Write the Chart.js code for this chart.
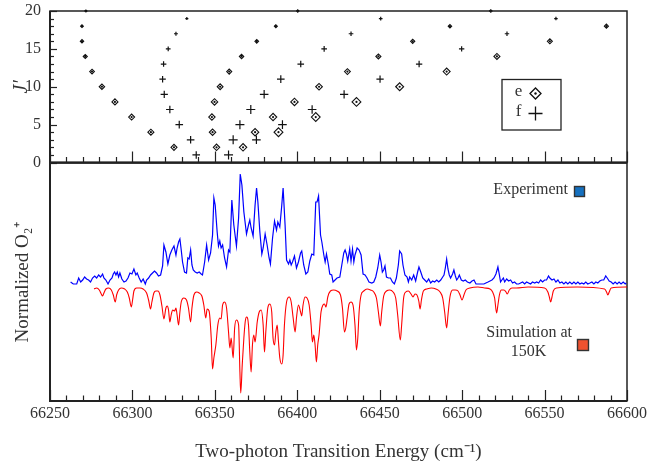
<!DOCTYPE html>
<html>
<head>
<meta charset="utf-8">
<script src="https://cdn.jsdelivr.net/npm/chart.js@4.4.0/dist/chart.umd.min.js"></script>
<style>
    html, body { margin: 0; padding: 0; background: #fff; }
    #wrap { position: relative; width: 648px; height: 464px; }
    #topChart, #botChart { position: absolute; left: 0; }
    #topChart { top: 0; }
    #botChart { top: 150px; }
</style>
</head>
<body>
<div id="wrap">
    <canvas id="topChart" width="648" height="175"></canvas>
    <canvas id="botChart" width="648" height="314"></canvas>
</div>
<script>
// ---- top panel: rotational assignments (energy in cm-1 for each J') ----
const J_EVEN = [2, 4, 6, 8, 10, 12, 14, 16, 18, 20];
const J_ODD  = [1, 3, 5, 7, 9, 11, 13, 15, 17, 19];

// e levels (diamonds), one array per branch, indexed like J_EVEN
const E_BRANCH_1 = [66325.2, 66311.2, 66299.5, 66289.4, 66281.5, 66275.5, 66271.4, 66269.4, 66269.4, 66271.8];
const E_BRANCH_2 = [66351.0, 66348.6, 66348.2, 66349.8, 66353.2, 66358.7, 66366.2, 66375.4, 66387.0, 66400.3];
const E_BRANCH_3 = [66367.1, 66374.4, 66385.3, 66398.3, 66413.2, 66430.4, 66449.2, 66470.0, 66492.6, 66517.4];
const E_BRANCH_4 = [null, 66388.6, 66411.2, 66435.9, 66462.1, 66490.6, 66521.1, 66553.2, 66587.5, null];

// f levels (crosses), indexed like J_ODD
const F_BRANCH_1 = [66338.7, 66335.3, 66328.4, 66322.7, 66319.3, 66318.3, 66318.9, 66321.7, 66326.4, 66333.0];
const F_BRANCH_2 = [66358.3, 66361.1, 66365.2, 66371.8, 66379.9, 66390.0, 66402.1, 66416.3, 66432.6, 66450.6];
const F_BRANCH_3 = [null, 66375.2, 66391.0, 66409.0, 66428.4, 66450.2, 66473.9, 66499.7, 66527.2, 66556.9];

// ---- bottom panel: experiment spectrum ----
const EXP_E = [66262.5, 66264.1, 66266.2, 66267.4, 66268.6, 66269.8, 66271.0, 66272.2, 66273.4, 66274.6, 66275.8, 66277.1, 66278.3, 66279.5, 66280.7, 66281.9, 66282.7, 66283.9, 66285.2, 66286.4, 66287.6, 66288.4, 66289.2, 66290.0, 66290.8, 66291.6, 66292.4, 66293.6, 66294.9, 66296.1, 66297.3, 66298.5, 66299.7, 66300.9, 66302.1, 66302.9, 66304.1, 66305.3, 66306.5, 66307.8, 66308.6, 66309.8, 66311.0, 66312.2, 66313.4, 66314.6, 66315.8, 66317.1, 66318.3, 66319.1, 66320.3, 66321.5, 66322.7, 66323.9, 66325.2, 66326.4, 66327.1, 66328.0, 66328.8, 66329.6, 66330.4, 66331.6, 66332.8, 66333.6, 66334.4, 66335.3, 66336.1, 66336.9, 66338.1, 66339.3, 66340.5, 66341.7, 66342.5, 66343.8, 66345.0, 66346.2, 66347.4, 66348.6, 66349.4, 66350.2, 66351.4, 66352.2, 66353.0, 66353.8, 66354.7, 66355.9, 66357.1, 66358.3, 66359.1, 66360.3, 66361.5, 66363.1, 66364.4, 66365.4, 66366.4, 66367.6, 66369.2, 66370.4, 66371.2, 66372.0, 66373.2, 66374.4, 66375.3, 66376.1, 66377.3, 66378.5, 66379.3, 66380.5, 66381.7, 66382.9, 66383.7, 66385.0, 66386.2, 66387.4, 66388.2, 66389.4, 66390.6, 66391.4, 66392.6, 66393.5, 66394.7, 66395.5, 66396.3, 66397.1, 66398.3, 66399.5, 66400.7, 66402.0, 66402.7, 66403.9, 66405.2, 66406.4, 66407.6, 66408.8, 66410.0, 66411.2, 66412.0, 66412.9, 66414.1, 66414.9, 66416.1, 66416.9, 66417.7, 66418.9, 66419.7, 66420.9, 66421.7, 66422.9, 66424.1, 66425.8, 66427.0, 66428.2, 66429.0, 66429.8, 66430.6, 66431.8, 66432.6, 66433.5, 66434.3, 66435.0, 66436.3, 66437.5, 66438.7, 66439.9, 66441.1, 66442.3, 66443.5, 66445.2, 66446.4, 66447.6, 66448.8, 66450.0, 66450.8, 66451.6, 66452.4, 66453.2, 66454.1, 66455.3, 66456.5, 66457.7, 66458.9, 66460.1, 66461.3, 66462.1, 66463.3, 66464.1, 66465.3, 66466.6, 66467.4, 66468.2, 66469.4, 66470.6, 66471.8, 66473.0, 66473.8, 66474.9, 66476.1, 66477.3, 66478.5, 66479.7, 66480.9, 66482.1, 66483.3, 66484.6, 66485.8, 66487.0, 66488.2, 66489.0, 66489.8, 66490.6, 66491.4, 66492.2, 66493.0, 66494.2, 66495.0, 66495.9, 66496.7, 66497.5, 66498.3, 66499.5, 66500.7, 66501.9, 66503.2, 66504.7, 66506.0, 66507.2, 66508.4, 66509.6, 66510.8, 66512.0, 66513.2, 66514.4, 66515.7, 66516.9, 66518.1, 66519.3, 66520.5, 66521.7, 66522.6, 66523.3, 66524.1, 66525.0, 66525.8, 66527.0, 66528.2, 66529.4, 66530.6, 66531.8, 66533.0, 66534.3, 66536.7, 66537.9, 66539.1, 66541.5, 66542.7, 66544.0, 66545.2, 66546.4, 66547.6, 66548.8, 66550.0, 66551.2, 66552.4, 66553.2, 66554.5, 66555.7, 66556.9, 66558.1, 66559.3, 66560.5, 66561.7, 66562.9, 66564.1, 66565.3, 66566.6, 66567.8, 66569.0, 66570.2, 66571.4, 66572.6, 66573.8, 66575.0, 66576.2, 66577.5, 66578.7, 66579.9, 66581.1, 66582.3, 66583.5, 66584.7, 66585.9, 66587.1, 66588.0, 66589.2, 66590.4, 66591.6, 66592.8, 66594.0, 66595.2, 66596.4, 66597.7, 66598.9, 66599.5];
const EXP_Y = [0.03, 0.01, 0.01, 0.07, 0.03, 0.05, 0.08, 0.06, 0.05, 0.03, 0.07, 0.09, 0.07, 0.10, 0.08, 0.11, 0.07, 0.05, 0.01, 0.05, 0.07, 0.11, 0.13, 0.10, 0.13, 0.08, 0.12, 0.06, 0.03, 0.04, 0.07, 0.12, 0.11, 0.16, 0.10, 0.12, 0.07, 0.03, 0.06, 0.01, 0.05, 0.07, 0.10, 0.12, 0.14, 0.12, 0.09, 0.10, 0.19, 0.40, 0.33, 0.21, 0.30, 0.35, 0.39, 0.30, 0.37, 0.43, 0.46, 0.35, 0.23, 0.13, 0.12, 0.27, 0.26, 0.35, 0.20, 0.15, 0.13, 0.12, 0.13, 0.11, 0.10, 0.23, 0.40, 0.25, 0.32, 0.50, 0.87, 0.80, 0.53, 0.39, 0.44, 0.37, 0.40, 0.27, 0.18, 0.35, 0.33, 0.85, 0.60, 0.39, 0.67, 1.11, 1.00, 0.73, 0.51, 0.60, 0.65, 0.57, 0.49, 0.80, 0.97, 0.83, 0.53, 0.31, 0.37, 0.51, 0.40, 0.27, 0.21, 0.47, 0.64, 0.55, 0.63, 0.58, 0.80, 0.97, 0.60, 0.25, 0.21, 0.25, 0.20, 0.23, 0.29, 0.17, 0.23, 0.32, 0.34, 0.20, 0.11, 0.13, 0.24, 0.31, 0.30, 0.83, 0.83, 0.89, 0.50, 0.43, 0.30, 0.23, 0.31, 0.20, 0.11, 0.10, 0.03, 0.05, 0.07, 0.08, 0.20, 0.32, 0.35, 0.31, 0.24, 0.36, 0.24, 0.36, 0.23, 0.30, 0.37, 0.35, 0.30, 0.11, 0.10, 0.07, 0.03, 0.02, 0.03, 0.08, 0.17, 0.30, 0.23, 0.13, 0.15, 0.19, 0.08, 0.07, 0.07, 0.03, 0.01, 0.07, 0.20, 0.34, 0.31, 0.20, 0.10, 0.08, 0.03, 0.08, 0.05, 0.10, 0.04, 0.13, 0.18, 0.13, 0.07, 0.05, 0.03, 0.06, 0.02, 0.04, 0.03, 0.05, 0.03, 0.05, 0.08, 0.10, 0.17, 0.26, 0.16, 0.10, 0.07, 0.11, 0.15, 0.09, 0.05, 0.07, 0.10, 0.05, 0.04, 0.05, 0.03, 0.02, 0.04, 0.05, 0.01, 0.01, 0.01, 0.01, 0.01, 0.02, 0.03, 0.04, 0.05, 0.07, 0.11, 0.18, 0.10, 0.03, 0.05, 0.07, 0.03, 0.06, 0.04, 0.05, 0.02, 0.03, 0.01, 0.01, 0.03, 0.01, 0.03, 0.01, 0.03, 0.02, 0.03, 0.02, 0.05, 0.03, 0.05, 0.05, 0.09, 0.07, 0.05, 0.06, 0.03, 0.05, 0.02, 0.03, 0.01, 0.03, 0.01, 0.03, 0.01, 0.03, 0.01, 0.03, 0.01, 0.02, 0.01, 0.03, 0.01, 0.02, 0.03, 0.01, 0.03, 0.02, 0.04, 0.05, 0.05, 0.09, 0.07, 0.04, 0.03, 0.01, 0.03, 0.01, 0.03, 0.01, 0.03, 0.01, 0.02];

// ---- bottom panel: simulation at 150 K (plotted downward) ----
const SIM_E = [66276.7, 66278.3, 66279.9, 66281.1, 66281.9, 66282.7, 66283.9, 66285.6, 66287.2, 66288.4, 66289.6, 66290.4, 66291.6, 66293.2, 66295.3, 66296.9, 66298.1, 66299.3, 66300.1, 66300.9, 66302.5, 66304.5, 66306.5, 66308.6, 66309.8, 66311.0, 66311.8, 66313.0, 66314.2, 66315.5, 66316.7, 66317.9, 66319.1, 66320.3, 66321.1, 66321.9, 66322.7, 66323.5, 66324.4, 66325.6, 66326.4, 66327.1, 66328.0, 66328.8, 66329.6, 66331.2, 66332.8, 66334.0, 66335.3, 66336.1, 66337.3, 66338.9, 66340.5, 66342.1, 66343.3, 66344.5, 66345.3, 66346.5, 66347.8, 66348.6, 66349.4, 66350.6, 66351.8, 66353.0, 66353.8, 66354.7, 66355.9, 66357.1, 66358.3, 66359.1, 66359.9, 66361.1, 66362.0, 66363.1, 66364.4, 66365.2, 66365.7, 66366.6, 66367.6, 66368.4, 66369.2, 66370.4, 66371.2, 66372.0, 66372.8, 66373.6, 66374.4, 66375.7, 66376.9, 66378.1, 66379.3, 66380.1, 66380.9, 66382.1, 66383.3, 66384.5, 66385.3, 66386.2, 66387.0, 66387.8, 66388.6, 66389.4, 66390.6, 66391.4, 66392.2, 66393.5, 66395.1, 66396.3, 66397.5, 66398.7, 66399.5, 66400.7, 66402.0, 66402.7, 66403.5, 66404.7, 66405.9, 66407.2, 66408.4, 66409.2, 66410.0, 66410.8, 66411.6, 66412.4, 66413.2, 66414.4, 66415.6, 66416.5, 66417.4, 66418.5, 66420.1, 66422.1, 66424.1, 66426.2, 66427.4, 66428.6, 66429.4, 66430.2, 66431.4, 66432.6, 66433.8, 66435.0, 66435.9, 66436.7, 66437.5, 66438.7, 66440.3, 66442.3, 66444.4, 66446.4, 66448.0, 66449.2, 66450.4, 66451.2, 66452.4, 66454.1, 66456.1, 66458.1, 66459.7, 66460.9, 66462.5, 66463.3, 66464.5, 66465.8, 66467.4, 66469.0, 66470.2, 66471.4, 66472.6, 66473.7, 66474.5, 66475.3, 66476.5, 66478.5, 66481.3, 66484.1, 66486.6, 66488.2, 66489.4, 66490.6, 66491.4, 66492.6, 66494.2, 66495.9, 66497.5, 66498.7, 66499.9, 66501.1, 66502.3, 66504.7, 66509.6, 66513.6, 66516.9, 66518.5, 66519.7, 66520.9, 66521.7, 66522.6, 66523.8, 66525.4, 66526.6, 66527.4, 66528.6, 66530.2, 66533.0, 66540.0, 66550.0, 66552.0, 66552.9, 66553.7, 66554.5, 66555.3, 66557.3, 66570.0, 66586.4, 66587.6, 66588.4, 66589.2, 66590.4, 66600.0];
const SIM_Y = [-0.04, -0.03, -0.05, -0.09, -0.11, -0.08, -0.04, -0.03, -0.05, -0.10, -0.17, -0.10, -0.05, -0.03, -0.04, -0.07, -0.13, -0.22, -0.15, -0.06, -0.03, -0.03, -0.04, -0.08, -0.15, -0.24, -0.17, -0.08, -0.06, -0.06, -0.10, -0.21, -0.34, -0.23, -0.21, -0.25, -0.37, -0.30, -0.25, -0.26, -0.23, -0.30, -0.40, -0.27, -0.17, -0.13, -0.15, -0.23, -0.37, -0.23, -0.10, -0.07, -0.08, -0.11, -0.20, -0.33, -0.24, -0.26, -0.53, -0.84, -0.73, -0.60, -0.40, -0.33, -0.34, -0.20, -0.17, -0.23, -0.47, -0.63, -0.53, -0.73, -0.43, -0.35, -0.40, -0.87, -1.08, -0.80, -0.53, -0.37, -0.32, -0.40, -0.67, -0.87, -0.60, -0.50, -0.57, -0.37, -0.27, -0.25, -0.40, -0.67, -0.47, -0.23, -0.19, -0.27, -0.53, -0.60, -0.47, -0.40, -0.57, -0.73, -0.79, -0.70, -0.40, -0.17, -0.12, -0.17, -0.33, -0.47, -0.33, -0.20, -0.27, -0.31, -0.20, -0.12, -0.13, -0.20, -0.40, -0.57, -0.50, -0.60, -0.77, -0.60, -0.50, -0.27, -0.20, -0.19, -0.22, -0.12, -0.06, -0.05, -0.06, -0.10, -0.23, -0.47, -0.43, -0.33, -0.19, -0.17, -0.20, -0.40, -0.65, -0.53, -0.27, -0.10, -0.06, -0.04, -0.05, -0.07, -0.13, -0.27, -0.41, -0.27, -0.11, -0.06, -0.05, -0.07, -0.13, -0.30, -0.55, -0.40, -0.13, -0.07, -0.06, -0.09, -0.12, -0.09, -0.10, -0.16, -0.24, -0.15, -0.06, -0.04, -0.03, -0.04, -0.07, -0.13, -0.27, -0.43, -0.30, -0.12, -0.05, -0.05, -0.06, -0.10, -0.15, -0.10, -0.05, -0.03, -0.02, -0.03, -0.04, -0.07, -0.13, -0.28, -0.20, -0.10, -0.05, -0.05, -0.07, -0.09, -0.05, -0.03, -0.03, -0.02, -0.03, -0.07, -0.12, -0.17, -0.12, -0.06, -0.03, -0.02, -0.04, -0.07, -0.10, -0.07, -0.03, -0.02];

const X_MIN = 66250, X_MAX = 66600;
const X_TICKS = [66250, 66300, 66350, 66400, 66450, 66500, 66550, 66600];
const J_TICKS = [0, 5, 10, 15, 20];

// ---- styling ----
const SERIF = "'Liberation Serif', 'Times New Roman', serif";
const INK = '#222';
const TEXT = '#333';
Chart.defaults.font.family = SERIF;
Chart.defaults.color = TEXT;

// marker size shrinks with J' (bigger branches get a bigger base size)
const markerR = (base, J) => Math.max(0.9, base * Math.min(1, 1.45 - 0.055 * J));

function toPoints(energies, js) {
    const pts = [];
    energies.forEach((e, i) => { if (e !== null) pts.push({ x: e, y: js[i] }); });
    return pts;
}

// keep tick-label padding from shrinking the plot area
function noScalePadding(s) {
    s.paddingTop = 0; s.paddingBottom = 0; s.paddingLeft = 0; s.paddingRight = 0;
}

const eSets = [[E_BRANCH_1, 3.0], [E_BRANCH_2, 3.2], [E_BRANCH_3, 3.7], [E_BRANCH_4, 4.4]];
const fSets = [[F_BRANCH_1, 3.8], [F_BRANCH_2, 4.5], [F_BRANCH_3, 4.3]];

// chart.js paints the first dataset last, so centre dots go before their diamonds
const topDatasets = [];
eSets.forEach(([arr, base]) => {
    const pts = toPoints(arr, J_EVEN);
    topDatasets.push({
        data: pts, pointStyle: 'circle', clip: false,
        pointRadius: 1.1, pointBackgroundColor: '#111', pointBorderWidth: 0,
    });
    topDatasets.push({
        data: pts, pointStyle: 'rectRot', clip: false,
        pointRadius: c => markerR(base, c.raw.y),
        pointBackgroundColor: '#fff', pointBorderColor: '#111', pointBorderWidth: 1.1,
    });
});
fSets.forEach(([arr, base]) => {
    topDatasets.push({
        data: toPoints(arr, J_ODD), pointStyle: 'cross', clip: false,
        pointRadius: c => markerR(base, c.raw.y),
        pointBorderColor: '#111', pointBorderWidth: 1.2,
    });
});

function drawXTicks(ctx, a, x) {
    ctx.lineWidth = 1.2;
    for (let v = X_MIN; v <= X_MAX; v += 10) {
        const px = Math.round(x.getPixelForValue(v)) + 0.5;
        const len = v % 50 === 0 ? 11 : 5.5;
        ctx.beginPath();
        ctx.moveTo(px, a.bottom);
        ctx.lineTo(px, a.bottom - len);
        ctx.stroke();
    }
}

function drawFrame(ctx, a) {
    ctx.lineWidth = 1.5;
    ctx.strokeRect(a.left, a.top, a.right - a.left, a.bottom - a.top);
    ctx.lineWidth = 2;
    ctx.beginPath();
    ctx.moveTo(a.left, a.top);
    ctx.lineTo(a.left, a.bottom);
    ctx.lineTo(a.right, a.bottom);
    ctx.stroke();
}

const topDeco = {
    id: 'topDeco',
    beforeDatasetsDraw(chart) {
        const { ctx, chartArea: a, scales: { x, y } } = chart;
        ctx.save();
        ctx.strokeStyle = INK;
        drawFrame(ctx, a);
        drawXTicks(ctx, a, x);
        ctx.lineWidth = 1.2;
        for (let j = 0; j <= 20; j++) {
            const py = Math.round(y.getPixelForValue(j)) + 0.5;
            const len = j % 5 === 0 ? 7 : 4;
            ctx.beginPath();
            ctx.moveTo(a.left, py);
            ctx.lineTo(a.left + len, py);
            ctx.stroke();
        }
        ctx.restore();
    },
    afterDatasetsDraw(chart) {
        const { ctx } = chart;
        ctx.save();
        ctx.strokeStyle = INK;
        ctx.lineWidth = 1.3;
        ctx.strokeRect(502, 79.5, 59, 50.5);
        ctx.fillStyle = TEXT;
        ctx.font = '17px ' + SERIF;
        ctx.textAlign = 'center';
        ctx.textBaseline = 'middle';
        ctx.fillText('e', 518.5, 91.5);
        ctx.fillText('f', 518.5, 112);
        // diamond
        ctx.strokeStyle = '#111';
        ctx.lineWidth = 1.3;
        ctx.beginPath();
        ctx.moveTo(530, 93.5); ctx.lineTo(535.5, 88); ctx.lineTo(541, 93.5); ctx.lineTo(535.5, 99); ctx.closePath();
        ctx.stroke();
        ctx.fillStyle = '#111';
        ctx.beginPath(); ctx.arc(535.5, 93.5, 1.2, 0, Math.PI * 2); ctx.fill();
        // cross
        ctx.beginPath();
        ctx.moveTo(528.5, 113.5); ctx.lineTo(542.5, 113.5);
        ctx.moveTo(535.5, 106.5); ctx.lineTo(535.5, 120.5);
        ctx.stroke();
        ctx.restore();
    },
};

const botDeco = {
    id: 'botDeco',
    beforeDatasetsDraw(chart) {
        const { ctx, chartArea: a, scales: { x } } = chart;
        ctx.save();
        ctx.strokeStyle = INK;
        drawFrame(ctx, a);
        drawXTicks(ctx, a, x);
        ctx.restore();
    },
    afterDatasetsDraw(chart) {
        const { ctx } = chart;
        const off = 150; // canvas offset on the page
        ctx.save();
        ctx.fillStyle = TEXT;
        ctx.font = '16px ' + SERIF;
        ctx.textBaseline = 'middle';
        ctx.textAlign = 'right';
        ctx.fillText('Experiment', 568, 190 - off);
        ctx.fillText('Simulation at', 572, 333 - off);
        ctx.textAlign = 'center';
        ctx.fillText('150K', 528.5, 352 - off);
        ctx.lineWidth = 1.4;
        ctx.strokeStyle = '#333';
        ctx.fillStyle = '#1570bf';
        ctx.fillRect(574.5, 186.5 - off, 10, 10);
        ctx.strokeRect(574.5, 186.5 - off, 10, 10);
        ctx.fillStyle = '#ee5230';
        ctx.fillRect(577.5, 339.5 - off, 11, 11);
        ctx.strokeRect(577.5, 339.5 - off, 11, 11);
        ctx.restore();
    },
};

new Chart(document.getElementById('topChart'), {
    type: 'scatter',
    data: { datasets: topDatasets },
    options: {
        responsive: false,
        animation: false,
        events: [],
        layout: { padding: { left: 0, top: 11, right: 21, bottom: 12.5 } },
        plugins: { legend: { display: false }, tooltip: { enabled: false } },
        scales: {
            x: { type: 'linear', min: X_MIN, max: X_MAX, display: false },
            y: {
                type: 'linear', min: 0, max: 20,
                afterBuildTicks: s => { s.ticks = J_TICKS.map(v => ({ value: v })); },
                afterFit: s => { s.width = 50; noScalePadding(s); },
                grid: { display: false, drawTicks: false },
                border: { display: false },
                ticks: { padding: 9, font: { size: 16 }, color: TEXT },
                title: { display: true, text: 'J′', font: { size: 20, style: 'italic' }, color: TEXT, padding: { top: 10 } },
            },
        },
    },
    plugins: [topDeco],
});

new Chart(document.getElementById('botChart'), {
    type: 'scatter',
    data: {
        datasets: [
            {
                data: EXP_E.map((e, i) => ({ x: e, y: EXP_Y[i] })),
                showLine: true, pointRadius: 0, borderColor: '#0000ff', borderWidth: 1.2,
            },
            {
                data: SIM_E.map((e, i) => ({ x: e, y: SIM_Y[i] })),
                showLine: true, pointRadius: 0, borderColor: '#ff0000', borderWidth: 1.1,
                cubicInterpolationMode: 'monotone',
            },
        ],
    },
    options: {
        responsive: false,
        animation: false,
        events: [],
        layout: { padding: { left: 0, top: 13, right: 21, bottom: 0 } },
        plugins: { legend: { display: false }, tooltip: { enabled: false } },
        scales: {
            x: {
                type: 'linear', min: X_MIN, max: X_MAX,
                afterBuildTicks: s => { s.ticks = X_TICKS.map(v => ({ value: v })); },
                afterFit: s => { s.height = 63; noScalePadding(s); },
                grid: { display: false, drawTicks: false },
                border: { display: false },
                ticks: { padding: 3, font: { size: 16 }, color: TEXT, maxRotation: 0, autoSkip: false, callback: v => String(v) },
                title: { display: true, text: 'Two-photon Transition Energy (cm⁻¹)', font: { size: 19 }, color: TEXT, padding: { bottom: 1 } },
            },
            y: {
                type: 'linear', min: -1.16, max: 1.22,
                afterFit: s => { s.width = 50; noScalePadding(s); },
                grid: { display: false, drawTicks: false },
                border: { display: false },
                ticks: { display: false },
                title: { display: true, text: 'Normalized O₂⁺', font: { size: 19 }, color: TEXT, padding: { top: 12 } },
            },
        },
    },
    plugins: [botDeco],
});
</script>
</body>
</html>
